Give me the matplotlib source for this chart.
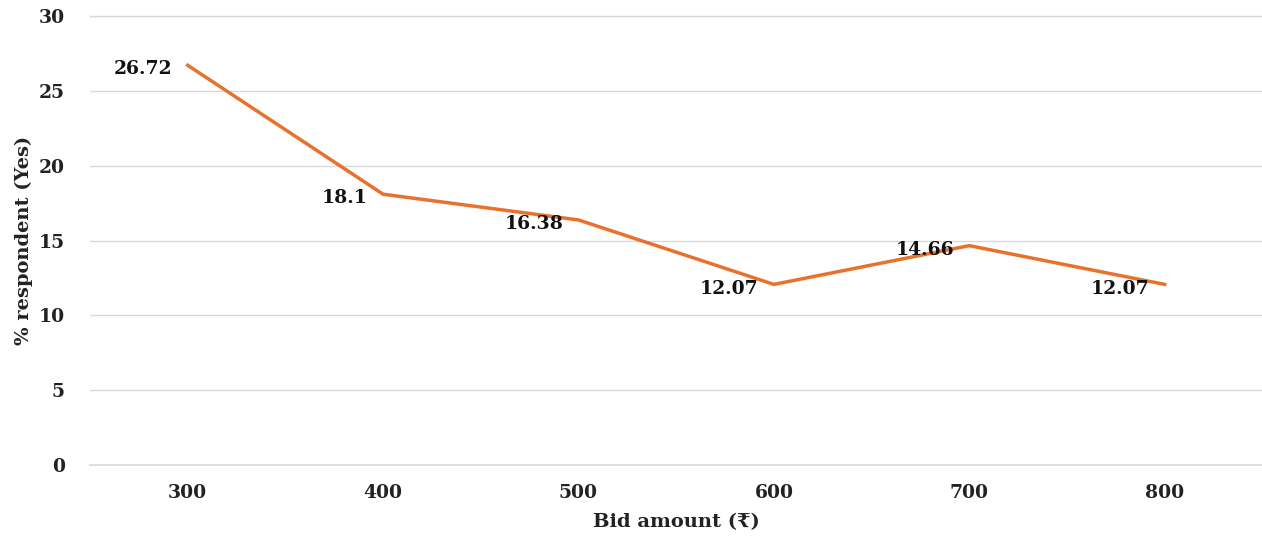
import matplotlib.pyplot as plt

# Willingness-to-pay responses by bid amount
bids = ['300', '400', '500', '600', '700', '800']
pct_yes = [26.72, 18.1, 16.38, 12.07, 14.66, 12.07]
point_labels = ['26.72', '18.1', '16.38', '12.07', '14.66', '12.07']
y_ticks = [0, 5, 10, 15, 20, 25, 30]

plt.rcParams['font.family'] = ['DejaVu Serif', 'DejaVu Sans']
plt.rcParams['font.weight'] = 'bold'

fig = plt.figure(figsize=(12.62, 5.4), dpi=100)
ax = fig.add_axes([0.0713, 0.139, 0.929, 0.831])

x = range(len(bids))
ax.plot(x, pct_yes, color='#E8722C', linewidth=2.5, solid_joinstyle='miter', zorder=3)

# value labels sit just left of each point
for xi, yi, lab in zip(x, pct_yes, point_labels):
    ax.annotate(lab, (xi, yi), xytext=(-11, -3), textcoords='offset points',
                ha='right', va='center', fontsize=13.5, fontweight='bold',
                color='#111111', zorder=4)

ax.set_xlim(-0.5, len(bids) - 0.5)
ax.set_ylim(0, 30)
ax.set_yticks(y_ticks)
ax.set_xticks(list(x))
ax.set_xticklabels(bids)
ax.tick_params(axis='both', length=0, labelsize=13.5, colors='#222222')
ax.tick_params(axis='y', pad=18)
ax.tick_params(axis='x', pad=14)
for t in ax.get_xticklabels() + ax.get_yticklabels():
    t.set_fontweight('bold')

ax.grid(axis='y', color='#d9d9d9', linewidth=1)
ax.axhline(0, color='#d9d9d9', linewidth=1.2, clip_on=False, zorder=1)
ax.axhline(30, color='#d9d9d9', linewidth=1, clip_on=False, zorder=1)
ax.set_axisbelow(True)
for s in ax.spines.values():
    s.set_visible(False)

ax.set_xlabel('Bid amount (₹)', fontsize=14, fontweight='bold', color='#222222', labelpad=8)
ax.set_ylabel('% respondent (Yes)', fontsize=14, fontweight='bold', color='#222222', labelpad=4)

fig.savefig('out.png', dpi=100)
